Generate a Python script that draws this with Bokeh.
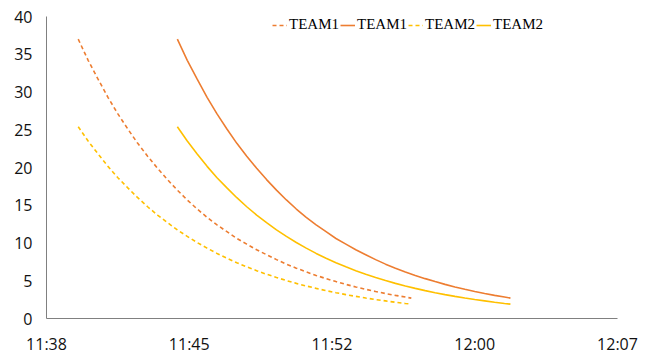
import pandas as pd
from bokeh.plotting import figure
from bokeh.models import (Range1d, FixedTicker, DatetimeTickFormatter,
                          Legend, LegendItem)
from bokeh.embed import file_html
from bokeh.resources import INLINE

# Start of each run; the dashed run starts five minutes before the solid one
start_dashed = "11:40:00"
start_solid = "11:45:00"

# Readings, minutes elapsed since the start of a run
elapsed_min = [0, 0.5, 1, 1.5, 2, 2.5, 3, 3.5, 4, 4.5, 5, 5.5, 6, 6.5, 7, 7.5, 8, 8.5,
               9, 9.5, 10, 10.5, 11, 11.5, 12, 12.5, 13, 13.5, 14, 14.5, 15, 15.5,
               16, 16.5, 16.8]
team1_values = [37.0, 34.2, 31.7, 29.3, 27.1, 25.1, 23.2, 21.5, 19.9, 18.4, 17.0,
                15.7, 14.5, 13.4, 12.4, 11.5, 10.6, 9.85, 9.1, 8.45, 7.8, 7.2,
                6.67, 6.17, 5.71, 5.28, 4.89, 4.52, 4.18, 3.87, 3.58, 3.31, 3.06,
                2.84, 2.7]
team2_values = [25.4, 23.5, 21.8, 20.15, 18.65, 17.3, 16.0, 14.8, 13.7, 12.7, 11.74,
                10.87, 10.06, 9.32, 8.62, 7.98, 7.39, 6.84, 6.33, 5.86, 5.43, 5.03,
                4.65, 4.31, 3.99, 3.69, 3.42, 3.16, 2.93, 2.71, 2.51, 2.33, 2.15,
                1.99, 1.9]

x_ticks = ["11:38:24", "11:45:36", "11:52:48", "12:00:00", "12:07:12"]
y_ticks = [0, 5, 10, 15, 20, 25, 30, 35, 40]

DAY = "2024-01-01 "


def run_times(start):
    t0 = pd.Timestamp(DAY + start)
    return [t0 + pd.Timedelta(minutes=m) for m in elapsed_min]


ORANGE = "#ED7D31"
YELLOW = "#FFC000"

tick_dt = pd.to_datetime([DAY + t for t in x_ticks])
p = figure(width=647, height=357, output_backend="svg", toolbar_location=None,
           x_axis_type="datetime",
           x_range=Range1d(tick_dt[0], tick_dt[-1]),
           y_range=Range1d(0, 40),
           min_border_left=46, min_border_right=30,
           min_border_top=16, min_border_bottom=36)
p.outline_line_color = None
p.xgrid.visible = False
p.ygrid.visible = False
p.background_fill_color = "white"
p.border_fill_color = "white"

x_dashed = run_times(start_dashed)
x_solid = run_times(start_solid)
r1d = p.line(x_dashed, team1_values, line_color=ORANGE, line_width=1.6, line_dash="4 3")
r1s = p.line(x_solid, team1_values, line_color=ORANGE, line_width=1.6)
r2d = p.line(x_dashed, team2_values, line_color=YELLOW, line_width=1.6, line_dash="4 3")
r2s = p.line(x_solid, team2_values, line_color=YELLOW, line_width=1.6)

# axes
p.xaxis.ticker = FixedTicker(ticks=[t.value / 1e6 for t in tick_dt])
fmt = "%H:%M"
p.xaxis.formatter = DatetimeTickFormatter(seconds=fmt, minsec=fmt, minutes=fmt,
                                          hourmin=fmt, hours=fmt)
p.yaxis.ticker = FixedTicker(ticks=y_ticks)
for ax in (p.xaxis, p.yaxis):
    ax.major_tick_line_color = None
    ax.minor_tick_line_color = None
    ax.major_tick_out = 0
    ax.major_tick_in = 0
    ax.axis_line_color = "#808080"
    ax.axis_line_width = 1
    ax.major_label_text_font = "Open Sans"
    ax.major_label_text_font_size = "16px"
    ax.major_label_text_color = "#111111"
p.xaxis.major_label_standoff = 14
p.yaxis.major_label_standoff = 14

legend = Legend(items=[LegendItem(label="TEAM1", renderers=[r1d]),
                       LegendItem(label="TEAM1", renderers=[r1s]),
                       LegendItem(label="TEAM2", renderers=[r2d]),
                       LegendItem(label="TEAM2", renderers=[r2s])],
                orientation="horizontal", location=(226, 285),
                glyph_width=15, glyph_height=16, label_height=16,
                label_standoff=2, spacing=1, padding=0, margin=0,
                border_line_color=None, background_fill_alpha=0,
                label_text_font="Liberation Serif", label_text_font_size="15px",
                label_text_color="black")
p.add_layout(legend, "center")

open("out.html", "w").write(file_html(p, INLINE))
